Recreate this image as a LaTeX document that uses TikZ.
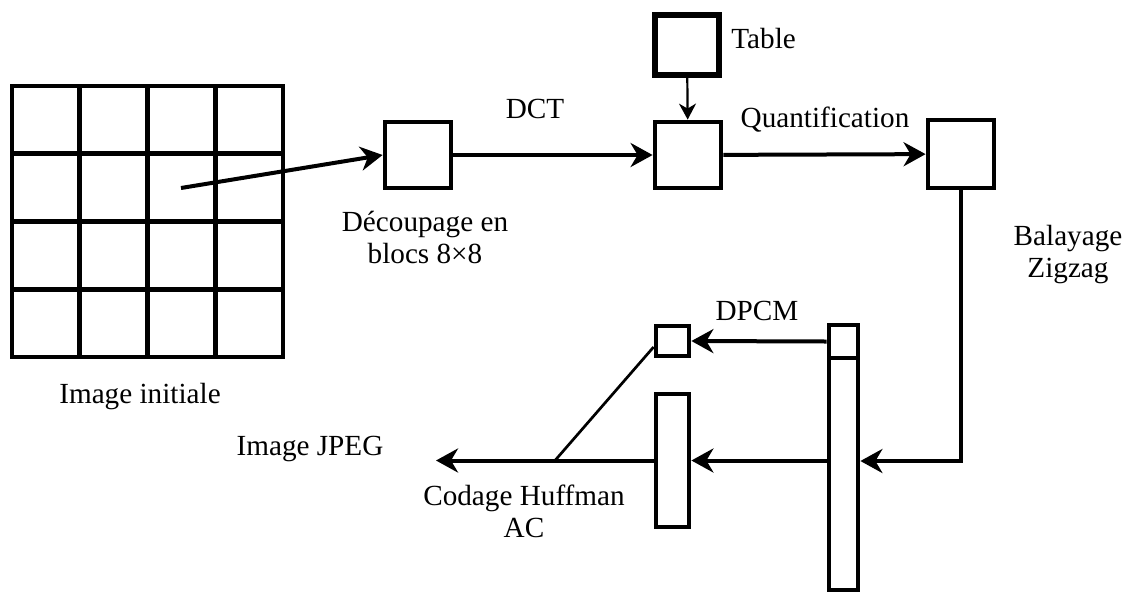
\documentclass[tikz,border=0pt]{standalone}
\usepackage{fontspec}
\setmainfont{Liberation Serif}
\usetikzlibrary{arrows.meta,calc}
\tikzset{
  imgline/.style={line width=2.4pt, line cap=rect},
  box/.style={draw, line width=2.4pt, inner sep=0pt, minimum width=33pt, minimum height=33pt},
  tabbox/.style={draw, line width=3.2pt, inner sep=0pt, minimum width=32pt, minimum height=30pt},
  bar/.style={draw, line width=2.4pt, inner sep=0pt, minimum width=16.5pt},
  arrow/.style={-{Stealth[length=11pt, width=12pt, inset=3.5pt]}, line width=2pt},
  thinarrow/.style={-{Stealth[length=8pt, width=8.5pt, inset=2.5pt]}, line width=1.1pt},
  thinline/.style={line width=1.35pt},
  lbl/.style={font=\fontsize{14.6}{16}\selectfont, inner sep=0pt, align=center}
}

\begin{document}
\begin{tikzpicture}[x=0.5pt,y=-0.5pt]
  \useasboundingbox (0,0) rectangle (1131,596);

  % image split into blocks
  \foreach \i in {0,...,4} {
    \draw[imgline] ({12+\i*67.75},86) -- ({12+\i*67.75},357);
    \draw[imgline] (12,{86+\i*67.75}) -- (283,{86+\i*67.75});
  }
  \coordinate (blk) at (181,188);
  \node[lbl, anchor=base] (imginit) at (140,403) {Image initiale};

  \node[box] (decoup) at (418,155) {};
  \node[box] (quant) at (688,155) {};
  \node[tabbox] (table) at (687,45) {};
  \node[box, minimum height=34pt] (zig) at (961,154) {};

  \node[bar, minimum height=15pt] (dpcm) at (672.5,341) {};
  \node[bar, minimum height=66.5pt] (ac) at (672.5,460.5) {};
  \node[bar, minimum width=14.5pt, minimum height=16.5pt] (dccol) at (843.5,341.5) {};
  \node[bar, minimum width=14.5pt, minimum height=116pt] (accol) at (843.5,474) {};

  % labels (anchor=base is the last line)
  \node[lbl, anchor=base] (dct) at (535,118) {DCT};
  \node[lbl, anchor=base] (decouplbl) at (425,263) {Découpage en\\blocs 8×8};
  \node[lbl, anchor=base west] (tablelbl) at (731,48) {Table};
  \node[lbl, anchor=base] (quantlbl) at (825,127) {Quantification};
  \node[lbl, anchor=base] (ziglbl) at (1068,277) {Balayage\\Zigzag};
  \node[lbl, anchor=base] (dpcmlbl) at (757,320) {DPCM};
  \node[lbl, anchor=base] (jpeglbl) at (310,455) {Image JPEG};
  \node[lbl, anchor=base] (huffman) at (524,537) {Codage Huffman\\AC};

  \coordinate (turn) at (961,461);
  \coordinate (jpeg) at (436,460.5);
  \coordinate (merge) at (555,460.5);

  \draw[arrow] (blk) -- (decoup.west);
  \draw[arrow] (decoup) -- (quant);
  \draw[thinarrow] (table) -- (quant);
  \draw[arrow] (quant) -- (zig);
  \draw[arrow] (zig.south) -- (turn) -- (turn -| accol.east);
  \draw[arrow] (dccol.west) -- (dpcm.east);
  \draw[arrow] (ac.east -| accol.west) -- (ac.east);
  \draw[arrow] (ac.west) -- (jpeg);
  \draw[thinline] ($(dpcm.west)+(0,6)$) -- (merge);
\end{tikzpicture}
\end{document}
